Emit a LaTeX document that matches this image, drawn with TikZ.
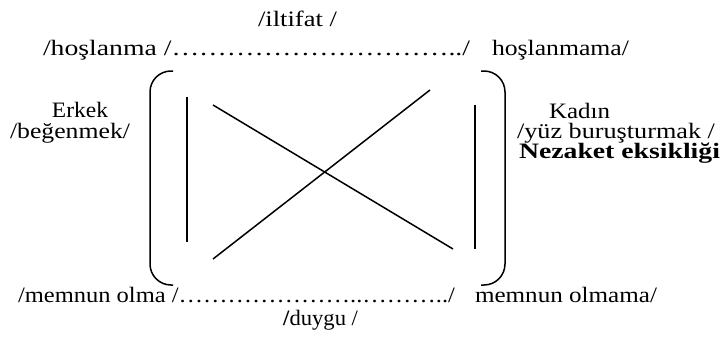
\documentclass[tikz,border=0pt]{standalone}
\usepackage{fontspec}
\usepackage{graphicx}
\setmainfont{Liberation Serif}
\newcommand{\fitw}[2]{\resizebox{#1}{\height}{#2}}
\begin{document}
\begin{tikzpicture}[x=1pt,y=-1pt,
  lbl/.style={anchor=base west,inner sep=0pt,outer sep=0pt,font=\fontsize{22}{20}\selectfont},
  ln/.style={line width=1.5pt,line cap=butt},
  brk/.style={line width=1.5pt,rounded corners=21pt}]
\useasboundingbox (0,0) rectangle (724,340);
% texts
\node[lbl] (iltifat) at (258,27) {\fitw{79pt}{/iltifat /}};
\node[lbl] (hos) at (43,55) {\fitw{427pt}{/hoşlanma /…………………………../}};
\node[lbl] (hosma) at (492,55) {\fitw{137pt}{hoşlanmama/}};
\node[lbl] (erkek) at (52,117) {\fitw{56pt}{Erkek}};
\node[lbl] (begen) at (10,138) {\fitw{120pt}{/beğenmek/}};
\node[lbl] (kadin) at (549,118) {\fitw{61pt}{Kadın}};
\node[lbl] (yuz) at (517,138) {\fitw{198pt}{/yüz buruşturmak /}};
\node[lbl] (nez) at (519,158) {\fitw{201pt}{\textbf{Nezaket eksikliği}}};
\node[lbl] (mem) at (18,302) {\fitw{437pt}{/memnun olma /…………………..………../}};
\node[lbl] (memma) at (475,302) {\fitw{182pt}{memnun olmama/}};
\node[lbl] (duygu) at (283,325) {\fitw{75pt}{\textbf{/}duygu /}};
% shape coordinates
\coordinate (lbt) at (173,71);
\coordinate (lbc1) at (150,71);
\coordinate (lbc2) at (150,285);
\coordinate (lbb) at (173,285);
\coordinate (rbt) at (481,71);
\coordinate (rbc1) at (505,71);
\coordinate (rbc2) at (505,285);
\coordinate (rbb) at (481,285);
\coordinate (liT) at (187,97);
\coordinate (liB) at (187,242);
\coordinate (riT) at (475,105);
\coordinate (riB) at (475,249);
\coordinate (d1a) at (213,105);
\coordinate (d1b) at (453,249);
\coordinate (d2a) at (213,259);
\coordinate (d2b) at (430,90);
% brackets
\draw[brk] (lbt) -- (lbc1) -- (lbc2) -- (lbb);
\draw[brk] (rbt) -- (rbc1) -- (rbc2) -- (rbb);
% inner lines
\draw[ln] (liT) -- (liB);
\draw[ln] (riT) -- (riB);
\draw[ln] (d1a) -- (d1b);
\draw[ln] (d2a) -- (d2b);
\end{tikzpicture}
\end{document}
